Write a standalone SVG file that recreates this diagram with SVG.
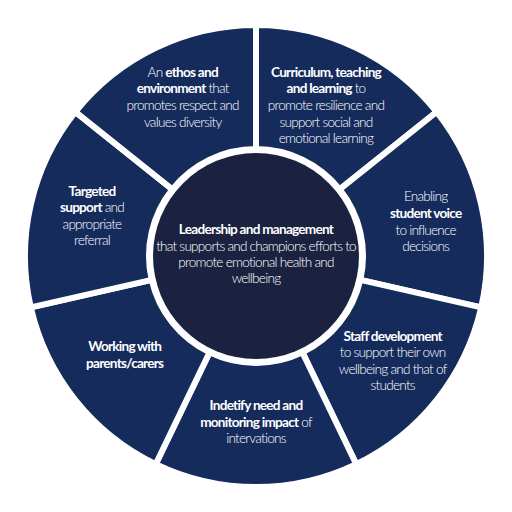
<svg xmlns="http://www.w3.org/2000/svg" width="512" height="512" viewBox="0 0 512 512">
<style>
.seg{fill:#152b5c;stroke:#ffffff;stroke-width:6;stroke-linejoin:miter}
.core{fill:#1a2240}
text{font-family:Lato,"Liberation Sans",sans-serif;font-size:13.6px;fill:#ffffff;text-anchor:middle;letter-spacing:-0.75px;font-weight:300}
.b{font-weight:700}
</style>
<rect width="512" height="512" fill="#ffffff"/>
<g id="seg-curriculum">
<path class="seg" d="M256,149 L256,25 A231,231 0 0 1 436.60,111.97 L339.66,189.29 A107,107 0 0 0 256,149 Z"/>
<text x="326" y="76.5"><tspan class="b">Curriculum, teaching</tspan></text>
<text x="326" y="93.2"><tspan class="b">and learning</tspan> to</text>
<text x="326" y="109.8">promote resilience and</text>
<text x="326" y="126.5">support social and</text>
<text x="326" y="142.5">emotional learning</text>
</g>
<g id="seg-voice">
<path class="seg" d="M339.66,189.29 L436.60,111.97 A231,231 0 0 1 481.21,307.40 L360.32,279.81 A107,107 0 0 0 339.66,189.29 Z"/>
<text x="425.7" y="201.2">Enabling</text>
<text x="425.7" y="217.8"><tspan class="b">student voice</tspan></text>
<text x="425.7" y="234.5">to influence</text>
<text x="425.7" y="250.5">decisions</text>
</g>
<g id="seg-staff">
<path class="seg" d="M360.32,279.81 L481.21,307.40 A231,231 0 0 1 356.23,464.12 L302.43,352.40 A107,107 0 0 0 360.32,279.81 Z"/>
<text x="392.7" y="340.5"><tspan class="b">Staff development</tspan></text>
<text x="392.7" y="357.2">to support their own</text>
<text x="392.7" y="373.8">wellbeing and that of</text>
<text x="392.7" y="389.8">students</text>
</g>
<g id="seg-identify">
<path class="seg" d="M302.43,352.40 L356.23,464.12 A231,231 0 0 1 155.77,464.12 L209.57,352.40 A107,107 0 0 0 302.43,352.40 Z"/>
<text x="256" y="409.8"><tspan class="b">Indetify need and</tspan></text>
<text x="256" y="426.5"><tspan class="b">monitoring impact</tspan> of</text>
<text x="256" y="443.2">intervations</text>
</g>
<g id="seg-parents">
<path class="seg" d="M209.57,352.40 L155.77,464.12 A231,231 0 0 1 30.79,307.40 L151.68,279.81 A107,107 0 0 0 209.57,352.40 Z"/>
<text x="124.7" y="351.2"><tspan class="b">Working with</tspan></text>
<text x="124.7" y="367.8"><tspan class="b">parents/carers</tspan></text>
</g>
<g id="seg-targeted">
<path class="seg" d="M151.68,279.81 L30.79,307.40 A231,231 0 0 1 75.40,111.97 L172.34,189.29 A107,107 0 0 0 151.68,279.81 Z"/>
<text x="92" y="195.5"><tspan class="b">Targeted</tspan></text>
<text x="92" y="212.2"><tspan class="b">support</tspan> and</text>
<text x="92" y="228.8">appropriate</text>
<text x="92" y="244.8">referral</text>
</g>
<g id="seg-ethos">
<path class="seg" d="M172.34,189.29 L75.40,111.97 A231,231 0 0 1 256,25 L256,149 A107,107 0 0 0 172.34,189.29 Z"/>
<text x="182.7" y="76.5">An <tspan class="b">ethos and</tspan></text>
<text x="182.7" y="93.2"><tspan class="b">environment</tspan> that</text>
<text x="182.7" y="109.8">promotes respect and</text>
<text x="182.7" y="126.5">values diversity</text>
</g>
<g id="center">
<circle class="core" cx="256" cy="256" r="103"/>
<text x="256" y="233.8"><tspan class="b">Leadership and management</tspan></text>
<text x="256" y="250.5">that supports and champions efforts to</text>
<text x="256" y="267.2">promote emotional health and</text>
<text x="256" y="283.2">wellbeing</text>
</g>
<g id="connectors"></g>
</svg>
